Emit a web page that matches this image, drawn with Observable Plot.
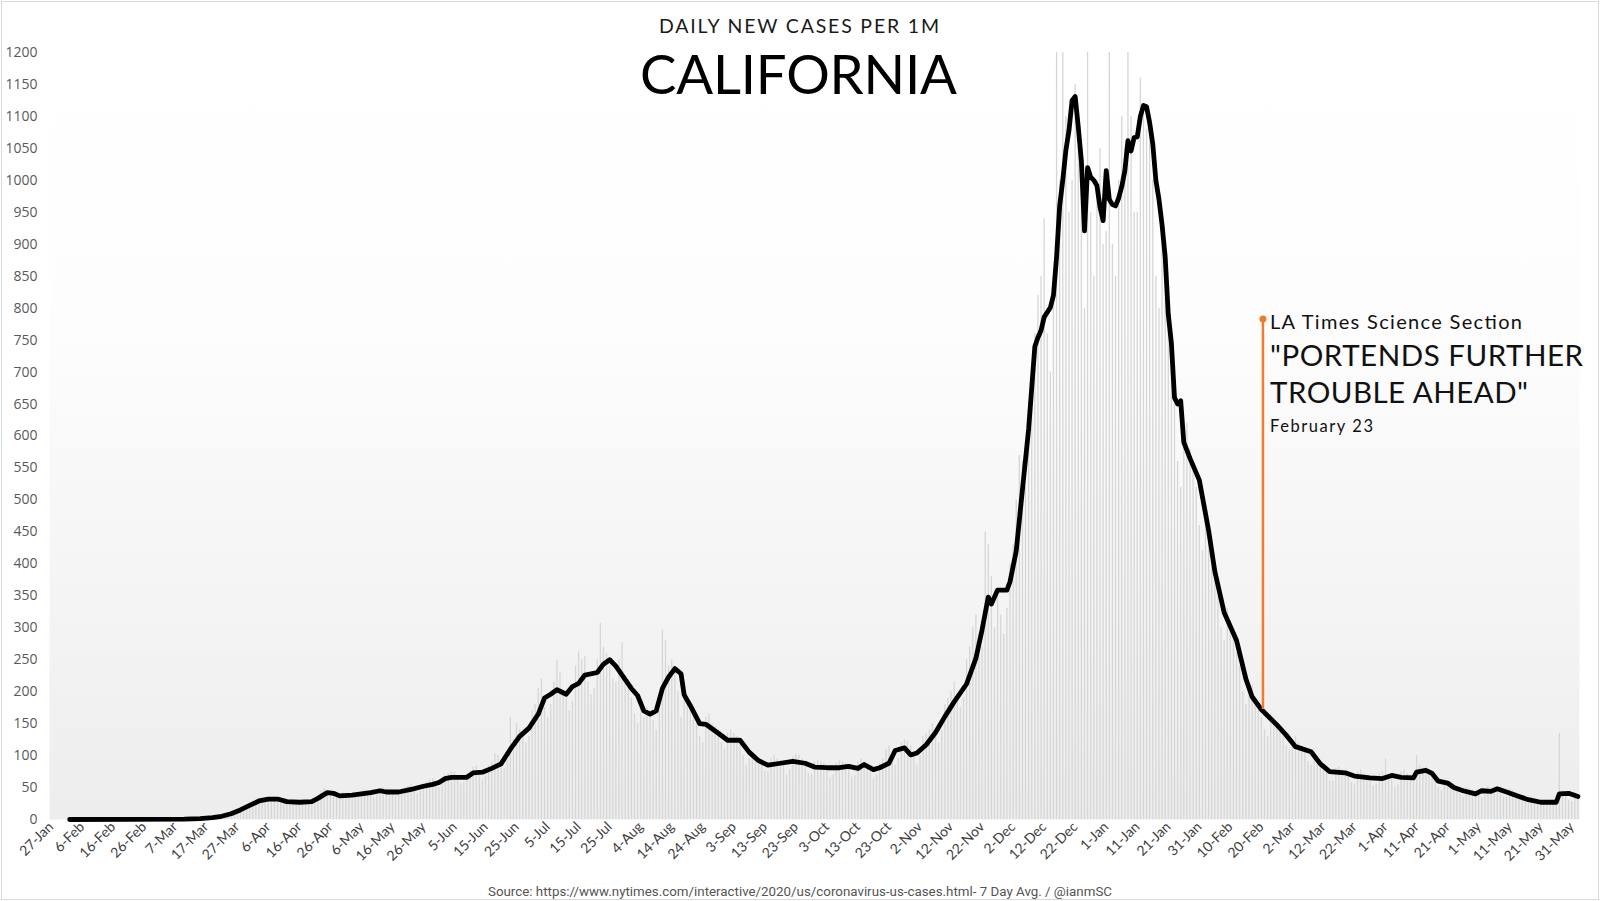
<!DOCTYPE html>
<html><head><meta charset="utf-8">
<script src="https://cdn.jsdelivr.net/npm/d3@7"></script>
<script src="https://cdn.jsdelivr.net/npm/@observablehq/plot@0.6"></script>
<style>
html,body{margin:0;padding:0;background:#fff;}
#wrap{position:relative;width:1600px;height:901px;overflow:hidden;background:#fff;}
#wrap > svg{position:absolute;left:0;top:0;}
#border{position:absolute;left:1px;top:1px;width:1596px;height:897px;border:1px solid #d9d9d9;pointer-events:none;}
</style></head><body>
<div id="wrap"></div>
<script>
// ---------- DATA ----------
const dailyStart = "2020-01-27";
// daily new cases per 1M (light gray bars), one value per day from 27-Jan-2020, one row per week
const dailyValues = [
  0,0,0,0,0,0,0,
  0,0,0,0,0,0,0,
  0,0,0,0,0,0,0,
  0,0,0,0,0,0,0,
  0,0,0,0,0,0,0,
  0,0,0,0,0.2,0.3,0.2,
  0.3,0.5,0.6,0.8,1.2,1.4,1.5,
  2,2.5,3,3.5,4,5,5.5,
  7,9,11,13,15,17,16,
  19,23,27,30,31,32,28,
  30,33,35,34,32,30,26,
  24,28,30,29,28,27,25,
  26,32,38,45,48,44,38,
  36,38,40,42,40,36,32,
  35,42,44,46,45,40,34,
  38,46,50,48,46,42,36,
  38,48,50,52,54,46,40,
  44,52,58,62,64,56,50,
  60,70,72,75,74,64,56,
  58,72,76,82,84,74,62,
  68,84,90,103,100,92,80,
  92,160,125,150,140,135,120,
  130,170,180,205,220,175,160,
  180,215,249,230,200,190,170,
  185,240,262,250,255,215,195,
  205,250,307,270,260,240,220,
  215,250,277,225,210,190,165,
  150,180,160,175,170,155,140,
  170,296,280,240,250,230,200,
  160,200,190,180,170,150,130,
  120,160,165,150,145,140,120,
  110,135,140,135,130,125,100,
  85,95,105,100,95,90,75,
  75,95,100,95,92,85,70,
  78,98,102,100,95,88,72,
  70,90,92,90,88,80,65,
  70,88,92,90,88,82,66,
  68,90,95,88,86,80,64,
  70,88,95,110,115,100,85,
  95,120,125,122,115,100,85,
  100,130,135,140,150,135,120,
  140,180,190,200,215,195,175,
  190,250,270,300,320,290,270,
  450,430,380,300,360,320,290,
  330,400,430,500,570,560,520,
  600,700,760,820,850,940,760,
  700,850,1250,1000,1250,1100,950,
  1000,1150,1050,1030,800,1250,950,
  850,1000,1050,900,920,1250,900,
  850,1000,1100,1050,1250,1100,950,
  950,1160,1120,1080,1100,1000,850,
  800,900,850,780,750,650,560,
  520,600,620,580,560,520,460,
  420,470,450,400,380,350,300,
  280,330,310,290,260,240,200,
  180,200,210,190,180,160,140,
  130,165,160,150,140,130,115,
  110,125,130,120,115,105,90,
  85,100,95,90,85,75,60,
  60,80,82,78,76,70,58,
  55,75,78,72,70,65,52,
  55,72,75,95,70,65,50,
  55,75,78,72,70,68,100,
  85,80,82,78,70,62,50,
  45,62,60,58,55,50,40,
  35,50,48,46,44,42,35,
  38,52,50,50,48,44,35,
  35,48,45,42,38,34,28,
  25,35,34,32,30,28,22,
  22,30,32,135,45,40,30,
  28,42,38
];

// 7-day average (black line)
const avgDates = [
  "2020-02-02","2020-03-10","2020-03-15","2020-03-19","2020-03-22","2020-03-25","2020-03-28","2020-03-31",
  "2020-04-03","2020-04-06","2020-04-09","2020-04-12","2020-04-16","2020-04-20","2020-04-22","2020-04-25",
  "2020-04-27","2020-04-29","2020-05-03","2020-05-06","2020-05-09","2020-05-12","2020-05-14","2020-05-18",
  "2020-05-22","2020-05-26","2020-05-29","2020-05-31","2020-06-02","2020-06-04","2020-06-09","2020-06-11",
  "2020-06-14","2020-06-17","2020-06-20","2020-06-23","2020-06-26","2020-06-29","2020-07-02","2020-07-04",
  "2020-07-06","2020-07-08","2020-07-11","2020-07-13","2020-07-15","2020-07-17","2020-07-21","2020-07-23",
  "2020-07-25","2020-07-27","2020-07-29","2020-08-01","2020-08-03","2020-08-05","2020-08-07","2020-08-09",
  "2020-08-11","2020-08-13","2020-08-15","2020-08-17","2020-08-18","2020-08-20","2020-08-23","2020-08-25",
  "2020-08-29","2020-09-01","2020-09-05","2020-09-08","2020-09-11","2020-09-14","2020-09-18","2020-09-22",
  "2020-09-26","2020-09-29","2020-10-03","2020-10-07","2020-10-10","2020-10-13","2020-10-15","2020-10-18",
  "2020-10-20","2020-10-23","2020-10-25","2020-10-28","2020-10-30","2020-11-01","2020-11-04","2020-11-07",
  "2020-11-10","2020-11-13","2020-11-17","2020-11-20","2020-11-22","2020-11-24","2020-11-25","2020-11-27",
  "2020-11-30","2020-12-01","2020-12-03","2020-12-05","2020-12-07","2020-12-09","2020-12-10","2020-12-11",
  "2020-12-12","2020-12-14","2020-12-15","2020-12-16","2020-12-17","2020-12-18","2020-12-19","2020-12-20",
  "2020-12-21","2020-12-22","2020-12-23","2020-12-24","2020-12-25","2020-12-26","2020-12-27","2020-12-28",
  "2020-12-29","2020-12-30","2020-12-31","2021-01-01","2021-01-02","2021-01-03","2021-01-04","2021-01-05",
  "2021-01-06","2021-01-07","2021-01-08","2021-01-09","2021-01-10","2021-01-11","2021-01-12","2021-01-13",
  "2021-01-14","2021-01-15","2021-01-16","2021-01-17","2021-01-18","2021-01-19","2021-01-20","2021-01-21",
  "2021-01-22","2021-01-23","2021-01-24","2021-01-25","2021-01-26","2021-01-28","2021-01-31","2021-02-03",
  "2021-02-05","2021-02-08","2021-02-12","2021-02-15","2021-02-17","2021-02-20","2021-02-25","2021-02-28",
  "2021-03-03","2021-03-08","2021-03-11","2021-03-14","2021-03-19","2021-03-22","2021-03-27","2021-03-31",
  "2021-04-03","2021-04-06","2021-04-10","2021-04-11","2021-04-14","2021-04-16","2021-04-18","2021-04-21",
  "2021-04-23","2021-04-26","2021-04-30","2021-05-02","2021-05-05","2021-05-07","2021-05-10","2021-05-14",
  "2021-05-17","2021-05-21","2021-05-26","2021-05-27","2021-05-30","2021-06-02"
];
const avgValues = [
  0,0.5,1.5,3,5,9,15,22,
  29,32,32,28,27,28,33,42,
  41,37,38,40,42,45,43,43,
  47,52,55,58,64,66,66,73,
  74,80,87,110,130,143,165,190,
  196,203,196,208,213,226,230,243,
  250,240,226,205,194,170,165,170,
  205,223,236,228,195,178,150,149,
  135,124,124,105,92,85,88,91,
  88,82,81,81,83,80,86,78,
  81,88,108,112,101,104,117,136,
  161,184,212,252,297,348,337,359,
  359,372,420,516,611,740,754,765,
  786,801,820,880,960,1000,1047,1078,
  1125,1131,1083,1030,921,1020,1005,1000,
  992,958,937,1015,970,962,960,972,
  990,1015,1062,1046,1067,1068,1100,1117,
  1115,1090,1057,1000,970,930,880,790,
  745,660,650,655,590,565,531,452,
  388,324,280,220,192,172,148,132,
  114,106,87,75,73,68,65,64,
  69,66,65,74,77,72,60,57,
  50,45,40,45,44,48,43,36,
  31,27,27,40,41,36
];

// axis ticks
const xTickFirst = "2020-01-27";
const xTickLast = "2021-05-31";
const xTickStepDays = 10;
const yTickValues = [0,50,100,150,200,250,300,350,400,450,500,550,600,650,700,750,800,850,900,950,1000,1050,1100,1150,1200];

// annotation
const annotDate = ["2021-02-20T12:00Z"];
const annotFrom = [172];
const annotTo = [783];
const annotLines = ["LA Times Science Section", "\"PORTENDS FURTHER", "TROUBLE AHEAD\"", "February 23"];

const titleText = "CALIFORNIA";
const subtitleText = "DAILY NEW CASES PER 1M";
const sourceText = "Source: https://www.nytimes.com/interactive/2020/us/coronavirus-us-cases.html- 7 Day Avg. / @ianmSC";

// ---------- BUILD ----------
const start = new Date(dailyStart);
const daily = dailyValues.map((v, i) => ({date: d3.utcDay.offset(start, i), value: v}));
const avg = avgDates.map((d, i) => ({date: new Date(d), value: avgValues[i]}));
const annot = annotDate.map((d, i) => ({date: new Date(d), from: annotFrom[i], to: annotTo[i]}));
const xTicks = d3.utcDay.range(new Date(xTickFirst), d3.utcDay.offset(new Date(xTickLast), 1), xTickStepDays);

const gradientDefs = () => {
  const defs = d3.create("svg:defs");
  const g = defs.append("linearGradient").attr("id", "bgGrad")
    .attr("x1", 0).attr("y1", 0).attr("x2", 0).attr("y2", 1);
  g.append("stop").attr("offset", "0%").attr("stop-color", "#ffffff");
  g.append("stop").attr("offset", "35%").attr("stop-color", "#fdfdfd");
  g.append("stop").attr("offset", "100%").attr("stop-color", "#ededed");
  return defs.node();
};

const chart = Plot.plot({
  width: 1600,
  height: 901,
  marginLeft: 49,
  marginRight: 21,
  marginTop: 52,
  marginBottom: 82,
  style: {background: "transparent", fontFamily: "Lato, sans-serif", overflow: "visible"},
  x: {
    type: "utc",
    domain: [new Date("2020-01-26T12:00Z"), new Date("2021-06-02T12:00Z")],
    ticks: xTicks,
    tickFormat: d3.utcFormat("%-d-%b"),
    tickRotate: -45,
    tickSize: 0,
    tickPadding: 5,
    label: null
  },
  y: {
    domain: [0, 1200],
    ticks: yTickValues,
    tickFormat: d3.format("d"),
    tickSize: 0,
    tickPadding: 12,
    label: null
  },
  marks: [
    gradientDefs,
    Plot.frame({fill: "url(#bgGrad)", stroke: "none"}),
    Plot.ruleX(daily, {x: "date", y1: 0, y2: "value", stroke: "#d6d6d6", strokeWidth: 1.3, clip: true}),
    Plot.line(avg, {x: "date", y: "value", stroke: "#000", strokeWidth: 4.8, strokeLinejoin: "round", strokeLinecap: "round"}),
    Plot.ruleX(annot, {x: "date", y1: "from", y2: "to", stroke: "#ed7d31", strokeWidth: 2.5}),
    Plot.dot(annot, {x: "date", y: "to", r: 3.5, fill: "#ed7d31", stroke: "none"})
  ]
});

const wrap = document.getElementById("wrap");
wrap.appendChild(chart);

// style tick labels
d3.select(chart).selectAll('g[aria-label^="x-axis"]')
  .attr("font-family", "Lato, sans-serif").attr("font-size", 14).attr("fill", "#404040");
d3.select(chart).selectAll('g[aria-label^="x-axis"] text')
  .attr("font-family", "Lato, sans-serif").attr("font-size", 14).attr("fill", "#404040");
d3.select(chart).selectAll('g[aria-label^="y-axis"]')
  .attr("font-family", "'Open Sans', sans-serif").attr("font-size", 14).attr("fill", "#595959");
d3.select(chart).selectAll('g[aria-label^="y-axis"] text')
  .attr("font-family", "'Open Sans', sans-serif").attr("font-size", 14).attr("fill", "#595959");

// overlay text layer
const over = d3.select(wrap).append("svg").attr("width", 1600).attr("height", 901)
  .style("pointer-events", "none");
over.append("text").attr("x", 799).attr("y", 33).attr("text-anchor", "middle")
  .attr("font-family", "Lato, sans-serif").attr("font-size", 19.5).attr("fill", "#1a1a1a")
  .attr("textLength", 280).attr("lengthAdjust", "spacing").text(subtitleText);
over.append("text").attr("x", 798.5).attr("y", 94).attr("text-anchor", "middle")
  .attr("font-family", "Lato, sans-serif").attr("font-size", 54.5).attr("fill", "#000")
  .attr("textLength", 317).attr("lengthAdjust", "spacing").text(titleText);

const ann = [
  {t: annotLines[0], y: 329, size: 20, w: 252},
  {t: annotLines[1], y: 366, size: 29.5, w: 313},
  {t: annotLines[2], y: 403, size: 29.5, w: 258},
  {t: annotLines[3], y: 432, size: 16.5, w: 103}
];
ann.forEach(a => {
  over.append("text").attr("x", 1270).attr("y", a.y)
    .attr("font-family", "Lato, sans-serif").attr("font-size", a.size).attr("fill", "#111")
    .attr("textLength", a.w).attr("lengthAdjust", "spacing").text(a.t);
});
over.append("text").attr("x", 800).attr("y", 895.5).attr("text-anchor", "middle")
  .attr("font-family", "Roboto, sans-serif").attr("font-size", 12.5).attr("fill", "#555")
  .attr("textLength", 624).attr("lengthAdjust", "spacingAndGlyphs").text(sourceText);

const border = document.createElement("div");
border.id = "border";
wrap.appendChild(border);
</script>
</body></html>
